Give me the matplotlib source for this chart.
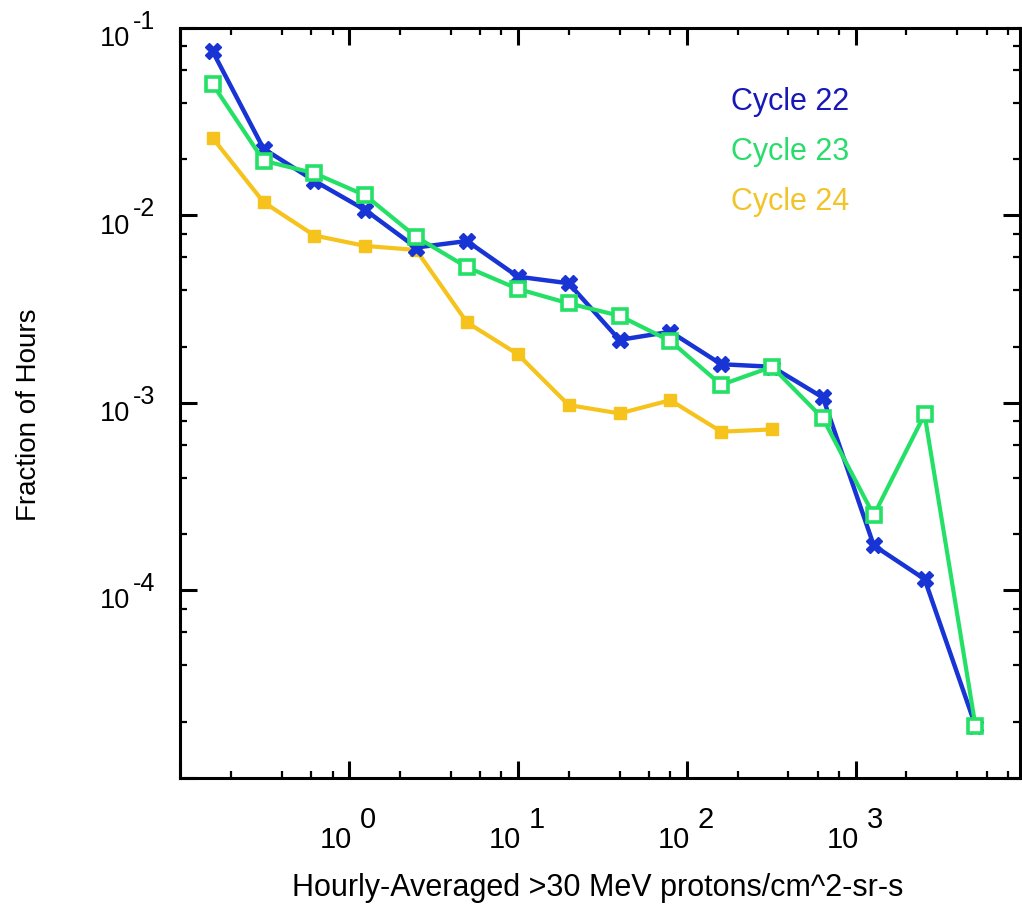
import matplotlib
matplotlib.use("Agg")
import matplotlib.pyplot as plt
from matplotlib import transforms
from matplotlib.ticker import LogLocator, NullFormatter
import numpy as np

# Flux bins (>30 MeV protons/cm^2-sr-s), doubling from 10/64
flux = [0.156, 0.3125, 0.625, 1.25, 2.5, 5, 10, 20, 40, 80, 160, 320,
        640, 1280, 2560, 5120]

cycle22 = [0.0751, 0.0227, 0.0153, 0.0107, 0.00675, 0.00731, 0.00472,
           0.00435, 0.00217, 0.00240, 0.00161, 0.00156, 0.00107,
           0.000174, 0.000115, 1.9e-5]
cycle23 = [0.0502, 0.0196, 0.0168, 0.0128, 0.00769, 0.00530, 0.00406,
           0.00340, 0.00292, 0.00214, 0.00125, 0.00156, 0.000828,
           0.000252, 0.000869, 1.9e-5]
cycle24 = [0.0259, 0.01178, 0.00782, 0.00688, 0.00655, 0.00269, 0.00182,
           0.000975, 0.000880, 0.001035, 0.000703, 0.000723]

series_names = ["Cycle 22", "Cycle 23", "Cycle 24"]
x_decades = [0, 1, 2, 3]
y_decades = [-1, -2, -3, -4]

plt.rcParams["font.family"] = ["Liberation Sans", "DejaVu Sans"]

BLUE = "#1834d4"
GREEN = "#24e066"
YELLOW = "#f6c31c"

fig = plt.figure(figsize=(10.22, 9.16), dpi=100)
ax = fig.add_axes([180 / 1022, 138 / 916, 840 / 1022, 750 / 916])

ax.plot(flux[:len(cycle24)], cycle24, color=YELLOW, lw=3.0, marker="s",
        ms=9, mfc=YELLOW, mec=YELLOW, zorder=3)
ax.plot(flux, cycle22, color=BLUE, lw=3.2, marker="X", ms=11.5,
        mfc=BLUE, mec=BLUE, zorder=5)
ax.plot(flux, cycle23, color=GREEN, lw=3.0, marker="s", ms=10,
        mfc="white", mec=GREEN, mew=2.6, zorder=6)

ax.set_xscale("log")
ax.set_yscale("log")
ax.set_xlim(0.1, 9400)
ax.set_ylim(1e-5, 1e-1)

for axis in (ax.xaxis, ax.yaxis):
    axis.set_major_locator(LogLocator(base=10, numticks=20))
    axis.set_minor_locator(LogLocator(base=10, subs=(2, 4, 6, 8), numticks=20))
    axis.set_major_formatter(NullFormatter())
    axis.set_minor_formatter(NullFormatter())

ax.tick_params(which="major", direction="in", length=12, width=2.2,
               top=True, right=True, labelbottom=False, labelleft=False)
ax.tick_params(which="minor", direction="in", length=5, width=1.6,
               top=True, right=True)
for sp in ax.spines.values():
    sp.set_linewidth(2.2)

# Decade tick labels: base "10" with a raised exponent
xt = transforms.blended_transform_factory(ax.transData, ax.transAxes)
for d in x_decades:
    base = transforms.offset_copy(xt, fig=fig, x=3 * 0.72, y=-70 * 0.72,
                                  units="points")
    ax.text(10.0 ** d, 0, "10", transform=base, ha="right", va="baseline",
            fontsize=21)
    sup = transforms.offset_copy(xt, fig=fig, x=11 * 0.72, y=-50 * 0.72,
                                 units="points")
    ax.text(10.0 ** d, 0, str(d), transform=sup, ha="left", va="baseline",
            fontsize=21)

yt = transforms.blended_transform_factory(ax.transAxes, ax.transData)
for d in y_decades:
    base = transforms.offset_copy(yt, fig=fig, x=-50 * 0.72, y=-18 * 0.72,
                                  units="points")
    ax.text(0, 10.0 ** d, "10", transform=base, ha="right", va="baseline",
            fontsize=19.5)
    sup = transforms.offset_copy(yt, fig=fig, x=-47 * 0.72, y=-1 * 0.72,
                                 units="points")
    ax.text(0, 10.0 ** d, str(d), transform=sup, ha="left", va="baseline",
            fontsize=18)

fig.text(598 / 1022, 1 - 888 / 916,
         "Hourly-Averaged >30 MeV protons/cm^2-sr-s",
         ha="center", va="center", fontsize=22)
fig.text(29 / 1022, 1 - 415 / 916, "Fraction of Hours", rotation=90,
         ha="center", va="center", fontsize=20)

label_colors = ["#1818b8", "#2adc6c", "#f2c42a"]
for i, (name, c) in enumerate(zip(series_names, label_colors)):
    fig.text(731 / 1022, 1 - (102 + 50 * i) / 916, name, color=c,
             ha="left", va="center", fontsize=22)

fig.savefig("out.png", dpi=100)
